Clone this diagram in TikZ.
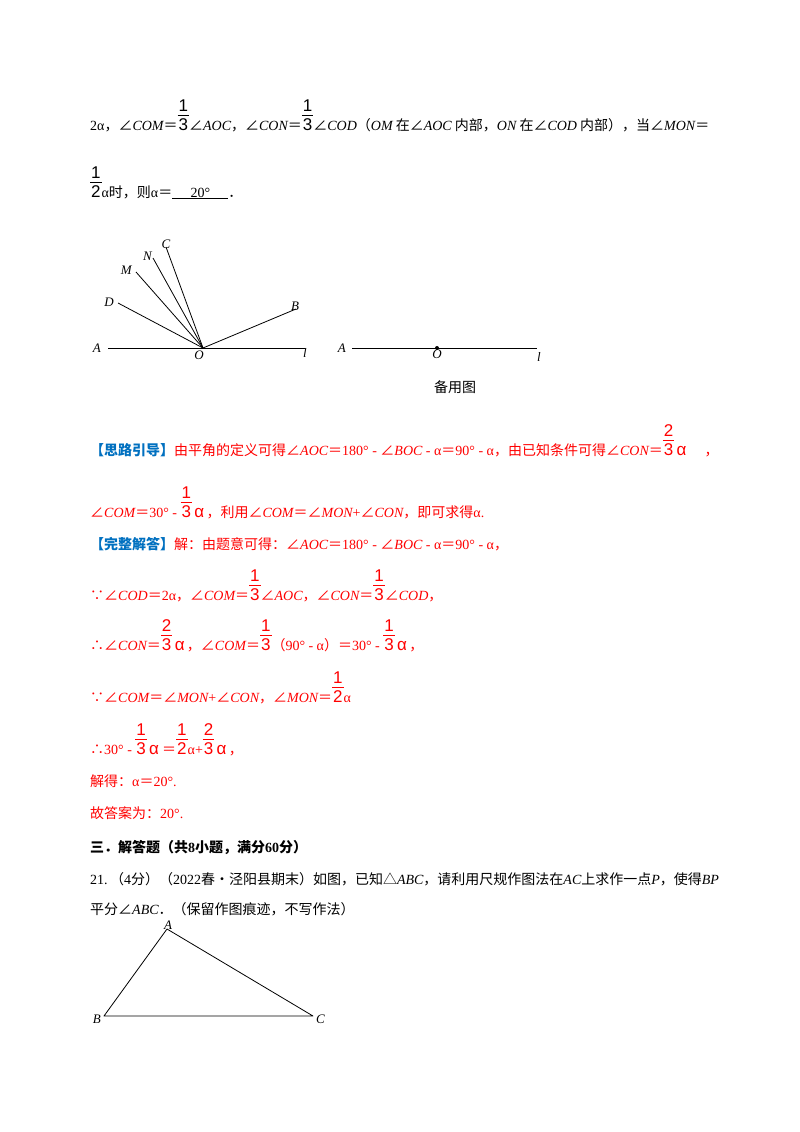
\documentclass[tikz,border=0pt]{standalone}
\usepackage{fontspec}
\setmainfont{Noto Sans CJK SC}
\newfontfamily\ser{Liberation Serif}
\newfontfamily\sff{Liberation Sans}
\newcommand\mi[1]{{\ser\itshape #1}}
\newcommand\nm[1]{{\ser #1}}
\newcommand\fr[2]{{\fontsize{17}{18}\selectfont\renewcommand\arraystretch{1.15}\begin{tabular}[b]{@{\hspace{1pt}}c@{\hspace{1pt}}}{\sff #1}\\[-3pt]\hline{\sff #2}\end{tabular}}}
\newcommand\al{\,{\fontsize{17}{18}\selectfont\sff α}}
\definecolor{blu}{RGB}{0,112,192}
\begin{document}
\begin{tikzpicture}[x=1pt,y=-1pt,
  T/.style={anchor=base west,inner sep=0pt,font=\fontsize{14}{16}\selectfont},
  R/.style={T,text=red},
  L/.style={inner sep=1pt,font=\fontsize{13}{15}\selectfont\ser\itshape},
  ln/.style={line width=0.8pt}]
\useasboundingbox[fill=white] (0,0) rectangle (800,1132);
\node[T] (l1) at (90,130) {\nm{2α}，∠\mi{COM}＝\fr{1}{3}∠\mi{AOC}，∠\mi{CON}＝\fr{1}{3}∠\mi{COD}（\mi{OM} 在∠\mi{AOC} 内部，\mi{ON} 在∠\mi{COD} 内部），当∠\mi{MON}＝};
\node[T] (l2) at (90,197) {\fr{1}{2}\nm{α}时，则\nm{α}＝\underline{\nm{\hspace{1.3em}20°\hspace{1.3em}}}．};
% diagram 1
\coordinate (O) at (203,348);
\coordinate (Ae) at (108,348); \coordinate (le) at (305,348);
\coordinate (D) at (118,303); \coordinate (M) at (136,272);
\coordinate (N) at (153,258); \coordinate (C) at (166,247); \coordinate (B) at (296,309);
\draw[ln] (Ae) -- (le);
\foreach \p in {D,M,N,C,B} \draw[ln] (O) -- (\p);
\node[L,anchor=east] (lA) at (102,348) {A};
\node[L,anchor=north] (lO) at (199,350) {O};
\node[L,anchor=west] (ll) at (302,353) {l};
\node[L,anchor=east] (lD) at (115,302) {D};
\node[L,anchor=east] (lM) at (133,270) {M};
\node[L,anchor=south east] (lN) at (153,262) {N};
\node[L,anchor=south] (lC) at (166,250) {C};
\node[L,anchor=south west] (lB) at (290,312) {B};
% diagram 2
\coordinate (A2) at (352,348); \coordinate (l2e) at (537,348);
\draw[ln] (A2) -- (l2e);
\fill (437,348) circle (2pt) coordinate (O2);
\node[L,anchor=east] (lA2) at (347,348) {A};
\node[L,anchor=north] (lO2) at (437,349) {O};
\node[L,anchor=west] (ll2) at (536,357) {l};
\node[T,anchor=base] (by) at (455,392) {备用图};
% solution
\node[R] (s1) at (90,455) {{\color{blu}\bfseries 【思路引导】}由平角的定义可得∠\mi{AOC}＝\nm{180° - }∠\mi{BOC}\nm{ - α}＝\nm{90° - α}，由已知条件可得∠\mi{CON}＝\fr{2}{3}\al\hspace{1.3em}，};
\node[R] (s2) at (90,517) {∠\mi{COM}＝\nm{30° - }\fr{1}{3}\al\,，利用∠\mi{COM}＝∠\mi{MON}\nm{+}∠\mi{CON}，即可求得\nm{α.}};
\node[R] (s3) at (90,549) {{\color{blu}\bfseries 【完整解答】}解：由题意可得：∠\mi{AOC}＝\nm{180° - }∠\mi{BOC}\nm{ - α}＝\nm{90° - α}，};
\node[R] (s4) at (90,600) {∵∠\mi{COD}＝\nm{2α}，∠\mi{COM}＝\fr{1}{3}∠\mi{AOC}，∠\mi{CON}＝\fr{1}{3}∠\mi{COD}，};
\node[R] (s5) at (90,650) {∴∠\mi{CON}＝\fr{2}{3}\al\,，∠\mi{COM}＝\fr{1}{3}（\nm{90° - α}）＝\nm{30° - }\fr{1}{3}\al\,，};
\node[R] (s6) at (90,702) {∵∠\mi{COM}＝∠\mi{MON}\nm{+}∠\mi{CON}，∠\mi{MON}＝\fr{1}{2}\nm{α}};
\node[R] (s7) at (90,754) {∴\nm{30° - }\fr{1}{3}\al\ ＝\fr{1}{2}\nm{α+}\fr{2}{3}\al\,，};
\node[R] (s8) at (90,786) {解得：\nm{α}＝\nm{20°.}};
\node[R] (s9) at (90,818) {故答案为：\nm{20°.}};
\node[T] (h3) at (90,852) {\bfseries 三．解答题（共\nm{\bfseries 8}小题，满分\nm{\bfseries 60}分）};
\node[T] (q1) at (90,884) {\nm{21.}\,（\nm{4}分）（\nm{2022}春•泾阳县期末）如图，已知△\mi{ABC}，请利用尺规作图法在\mi{AC}上求作一点\mi{P}，使得\mi{BP}};
\node[T] (q2) at (90,914) {平分∠\mi{ABC}．（保留作图痕迹，不写作法）};
% triangle
\coordinate (TA) at (167,929); \coordinate (TB) at (104,1016); \coordinate (TC) at (313,1016);
\draw[ln,line join=round] (TA) -- (TB) -- (TC) -- cycle;
\node[L,anchor=south] (tA) at (168,931) {A};
\node[L,anchor=east] (tB) at (102,1019) {B};
\node[L,anchor=west] (tC) at (315,1019) {C};
\end{tikzpicture}
\end{document}
